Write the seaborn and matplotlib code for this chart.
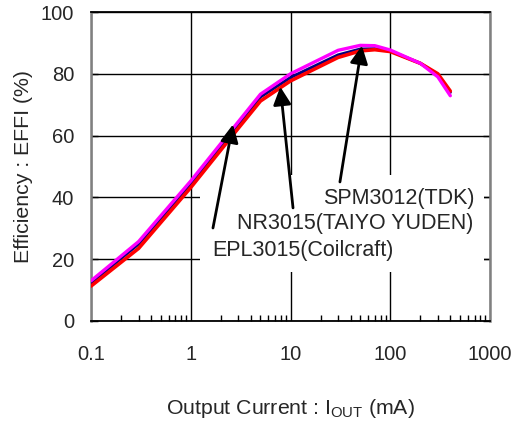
import matplotlib
matplotlib.use("Agg")
import matplotlib.pyplot as plt
import matplotlib.ticker as mticker
from matplotlib.patches import Rectangle
import seaborn as sns
import pandas as pd

# ---- data ----
current_ma = [0.1, 0.3, 1, 3, 5, 10, 30, 50, 70, 100, 200, 300, 400]
eff_spm3012 = [13.0, 25.7, 45.3, 64.5, 73.4, 80.0, 87.6, 89.2, 89.1, 87.7, 83.4, 79.0, 72.9]
eff_nr3015 = [12.3, 24.9, 44.4, 63.5, 72.5, 78.8, 86.1, 88.0, 88.1, 87.4, 83.4, 79.7, 74.0]
eff_epl3015 = [11.3, 23.5, 43.2, 62.4, 71.2, 77.7, 85.3, 87.4, 87.8, 87.2, 83.4, 80.0, 74.4]
labels = ["SPM3012(TDK)", "NR3015(TAIYO YUDEN)", "EPL3015(Coilcraft)"]
y_ticks = [0, 20, 40, 60, 80, 100]
x_ticks = [0.1, 1, 10, 100, 1000]
x_ticklabels = ["0.1", "1", "10", "100", "1000"]

sns.set_theme(style="white")
plt.rcParams["font.family"] = ["Liberation Sans", "DejaVu Sans"]
plt.rcParams["mathtext.default"] = "regular"

fig = plt.figure(figsize=(5.15, 4.21), dpi=100)
ax = fig.add_axes([91 / 515, 1 - 321 / 421, 399 / 515, 309 / 421])

df_n = pd.DataFrame({"x": current_ma, "y": eff_nr3015})
df_e = pd.DataFrame({"x": current_ma, "y": eff_epl3015})
df_s = pd.DataFrame({"x": current_ma, "y": eff_spm3012})

sns.lineplot(data=df_n, x="x", y="y", ax=ax, color="#000080", lw=2.2, zorder=3, estimator=None)
sns.lineplot(data=df_e, x="x", y="y", ax=ax, color="#FF0000", lw=2.6, zorder=3, estimator=None)
sns.lineplot(data=df_s, x="x", y="y", ax=ax, color="#FF00FF", lw=2.4, zorder=4, estimator=None)

ax.set_xscale("log")
ax.set_xlim(0.1, 1000)
ax.set_ylim(0, 100)
ax.set_xticks(x_ticks)
ax.set_xticklabels(x_ticklabels)
ax.xaxis.set_minor_locator(mticker.LogLocator(base=10, subs=range(2, 10), numticks=20))
ax.xaxis.set_minor_formatter(mticker.NullFormatter())
ax.set_yticks(y_ticks)

ax.set_axisbelow(True)
ax.grid(True, which="major", color="black", lw=1.0)
ax.tick_params(axis="x", which="major", direction="in", length=0, labelsize=14.5, pad=17)
ax.tick_params(axis="x", which="minor", direction="in", length=4, width=1, color="black", bottom=True)
ax.tick_params(axis="y", which="major", direction="in", length=5, width=1, color="black",
               left=True, right=True, labelsize=14.5, pad=12)

for side in ["left", "right"]:
    ax.spines[side].set_color("#808080")
    ax.spines[side].set_linewidth(1.8)
for side in ["top", "bottom"]:
    ax.spines[side].set_color("black")
    ax.spines[side].set_linewidth(1.3)

ax.set_xlabel("Output Current : I$_{OUT}$ (mA)", fontsize=15.3, labelpad=24)
ax.set_ylabel("Efficiency : EFFI (%)", fontsize=15.3, labelpad=6)

# white box behind annotation texts
ax.add_patch(Rectangle((0.273, 0.159), 0.712, 0.313, transform=ax.transAxes,
                       facecolor="white", edgecolor="none", zorder=1))

arrow = dict(arrowstyle="-|>,head_length=0.9,head_width=0.45", color="black", lw=2,
             shrinkA=0, shrinkB=0)
ax.annotate("", xy=(2.65, 63.6), xytext=(1.67, 30.1), arrowprops=arrow, zorder=5)
ax.annotate("", xy=(7.9, 75.8), xytext=(10.6, 36.6), arrowprops=arrow, zorder=5)
ax.annotate("", xy=(52.0, 89.1), xytext=(31.3, 45.0), arrowprops=arrow, zorder=5)

ax.text(0.5807, 0.397, labels[0], transform=ax.transAxes, fontsize=15.5,
        ha="left", va="center", zorder=6)
ax.text(0.3650, 0.317, labels[1], transform=ax.transAxes, fontsize=15.5,
        ha="left", va="center", zorder=6)
ax.text(0.305, 0.229, labels[2], transform=ax.transAxes, fontsize=15.5,
        ha="left", va="center", zorder=6)

fig.savefig("out.png", dpi=100)
